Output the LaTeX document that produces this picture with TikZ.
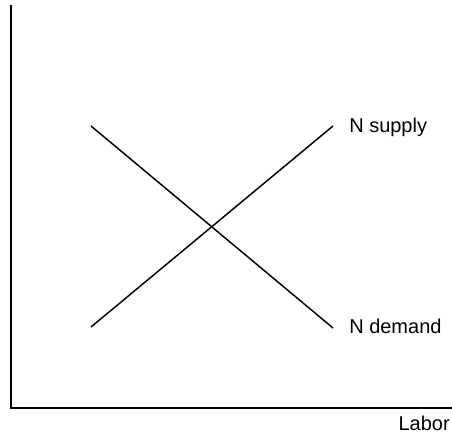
\documentclass[tikz,border=0pt]{standalone}
\usepackage{fontspec}
\setmainfont{Liberation Sans}
\usepackage{tikz}
\usetikzlibrary{positioning}

\begin{document}
\begin{tikzpicture}[x=0.75pt,y=-0.75pt,font=\fontsize{15}{18}\selectfont,
  axis/.style={line width=1.4pt},
  curve/.style={line width=1.1pt},
  lbl/.style={anchor=west,inner sep=0pt}]
  \useasboundingbox (0,0) rectangle (452,442);
  % axes
  \coordinate (top) at (11,5);
  \coordinate (origin) at (11,408);
  \coordinate (right) at (452,408);
  \draw[axis] (top) -- (origin) -- (right);
  \node[anchor=east,inner sep=0pt] (labor) at (450,423) {Labor};
  % supply and demand
  \coordinate (s0) at (91,327);
  \coordinate (s1) at (333,126);
  \coordinate (d0) at (91,126);
  \coordinate (d1) at (333,328);
  \draw[curve] (s0) -- (s1);
  \draw[curve] (d0) -- (d1);
  \node[lbl] (supply) at (349,127) {N supply};
  \node[lbl] (demand) at (349,326) {N demand};
\end{tikzpicture}
\end{document}
